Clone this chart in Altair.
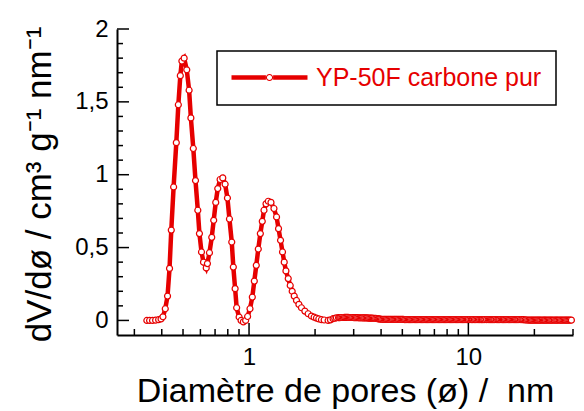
import altair as alt
import pandas as pd

# ---------------- data ----------------
pore_width_nm = [
    0.342, 0.352, 0.363, 0.375, 0.387, 0.397, 0.405, 0.415, 0.425, 0.434,
    0.442, 0.453, 0.466, 0.476, 0.486, 0.494, 0.506, 0.520, 0.533, 0.543,
    0.557, 0.570, 0.584, 0.594, 0.607, 0.620, 0.638, 0.646, 0.660, 0.676,
    0.690, 0.705, 0.720, 0.738, 0.759, 0.778, 0.797, 0.814, 0.834, 0.848,
    0.864, 0.878, 0.901, 0.920, 0.942, 0.965, 0.985, 1.010, 1.035, 1.057,
    1.079, 1.102, 1.126, 1.149, 1.170, 1.195, 1.224, 1.259, 1.299, 1.335,
    1.363, 1.392, 1.421, 1.447, 1.473, 1.509, 1.541, 1.573, 1.607, 1.646,
    1.688, 1.734, 1.797, 1.860, 1.925, 1.980, 2.029, 2.080, 2.138, 2.200,
    2.294, 2.350, 2.416, 2.460, 2.502,
    # flat tail (densely sampled)
    2.56, 2.59, 2.62, 2.655, 2.69, 2.725, 2.76, 2.795, 2.83, 2.865,
    2.90, 2.935, 2.97, 3.01, 3.05, 3.09, 3.13, 3.17, 3.21, 3.25,
    3.29, 3.33, 3.37, 3.415, 3.46, 3.505, 3.55, 3.595, 3.64, 3.685,
    3.73, 3.78, 3.83, 3.875, 3.92, 3.97, 4.02, 4.075, 4.13, 4.18,
    4.23, 4.285, 4.34, 4.395, 4.45, 4.51, 4.57, 4.625, 4.68, 4.74,
    4.80, 4.865, 4.93, 4.99, 5.05, 5.115, 5.18, 5.25, 5.32, 5.385,
    5.45, 5.52, 5.59, 5.665, 5.74, 5.81, 5.88, 5.955, 6.03, 6.11,
    6.19, 6.27, 6.35, 6.43, 6.51, 6.595, 6.68, 6.765, 6.85, 6.935,
    7.02, 7.11, 7.20, 7.295, 7.39, 7.485, 7.58, 7.675, 7.77, 7.87,
    7.97, 8.075, 8.18, 8.285, 8.39, 8.495, 8.60, 8.71, 8.82, 8.935,
    9.05, 9.165, 9.28, 9.40, 9.52, 9.645, 9.77, 9.885, 10.0, 10.15,
    10.3, 10.4, 10.5, 10.65, 10.8, 10.95, 11.1, 11.25, 11.4, 11.5,
    11.6, 11.75, 11.9, 12.1, 12.3, 12.45, 12.6, 12.75, 12.9, 13.05,
    13.2, 13.4, 13.6, 13.75, 13.9, 14.1, 14.3, 14.45, 14.6, 14.8,
    15.0, 15.2, 15.4, 15.6, 15.8, 16.0, 16.2, 16.4, 16.6, 16.8,
    17.0, 17.25, 17.5, 17.7, 17.9, 18.15, 18.4, 18.65, 18.9, 19.15,
    19.4, 19.65, 19.9, 20.15, 20.4, 20.65, 20.9, 21.15, 21.4, 21.7,
    22.0, 22.25, 22.5, 22.8, 23.1, 23.4, 23.7, 24.0, 24.3, 24.65,
    25.0, 25.3, 25.6, 25.95, 26.3, 26.65, 27.0, 27.35, 27.7, 28.05,
    28.4, 28.75, 29.1, 29.5,
]
dv_dd = [
    0.0, 0.0, 0.0, 0.002, 0.005, 0.010, 0.025, 0.080, 0.167, 0.357,
    0.620, 0.916, 1.220, 1.480, 1.680, 1.780, 1.800, 1.720, 1.580, 1.390,
    1.180, 0.960, 0.756, 0.596, 0.470, 0.400, 0.360, 0.390, 0.465, 0.570,
    0.687, 0.810, 0.905, 0.967, 0.978, 0.935, 0.840, 0.696, 0.538, 0.366,
    0.218, 0.087, 0.023, 0.0, -0.010, 0.0, 0.027, 0.080, 0.160, 0.270,
    0.378, 0.490, 0.596, 0.680, 0.756, 0.800, 0.818, 0.810, 0.768, 0.710,
    0.630, 0.550, 0.470, 0.400, 0.340, 0.287, 0.240, 0.200, 0.167, 0.137,
    0.110, 0.087, 0.064, 0.046, 0.030, 0.022, 0.016, 0.010, 0.005, 0.003,
    0.0, 0.004, 0.012, 0.015, 0.018,
    # flat tail
    0.019, 0.019, 0.020, 0.020, 0.020, 0.021, 0.021, 0.021, 0.021, 0.020,
    0.020, 0.020, 0.020, 0.019, 0.019, 0.019, 0.019, 0.018, 0.018, 0.018,
    0.018, 0.017, 0.017, 0.017, 0.017, 0.016, 0.016, 0.016, 0.016, 0.015,
    0.015, 0.014, 0.013, 0.011, 0.010, 0.009, 0.008, 0.007, 0.007, 0.007,
    0.007, 0.007, 0.007, 0.007, 0.007, 0.007, 0.007, 0.007, 0.007, 0.007,
    0.007, 0.007, 0.007, 0.007, 0.007, 0.006, 0.006, 0.006, 0.006, 0.006,
    0.006, 0.006, 0.006, 0.006, 0.006, 0.006, 0.006, 0.006, 0.006, 0.006,
    0.006, 0.006, 0.006, 0.006, 0.006, 0.006, 0.006, 0.006, 0.006, 0.006,
    0.006, 0.006, 0.006, 0.006, 0.006, 0.006, 0.006, 0.006, 0.006, 0.006,
    0.006, 0.006, 0.006, 0.006, 0.006, 0.006, 0.006, 0.006, 0.006, 0.006,
    0.006, 0.006, 0.006, 0.006, 0.006, 0.006, 0.006, 0.006, 0.006, 0.006,
    0.006, 0.006, 0.006, 0.006, 0.006, 0.006, 0.006, 0.006, 0.006, 0.006,
    0.006, 0.006, 0.006, 0.006, 0.006, 0.006, 0.006, 0.006, 0.006, 0.006,
    0.006, 0.006, 0.006, 0.006, 0.006, 0.006, 0.006, 0.006, 0.006, 0.006,
    0.006, 0.006, 0.006, 0.006, 0.006, 0.006, 0.006, 0.006, 0.006, 0.006,
    0.006, 0.006, 0.006, 0.005, 0.005, 0.004, 0.003, 0.003, 0.002, 0.002,
    0.002, 0.002, 0.002, 0.002, 0.002, 0.002, 0.002, 0.002, 0.002, 0.002,
    0.002, 0.002, 0.002, 0.002, 0.002, 0.002, 0.002, 0.002, 0.002, 0.002,
    0.002, 0.002, 0.002, 0.002, 0.002, 0.002, 0.002, 0.002, 0.002, 0.002,
    0.002, 0.002, 0.002, 0.002,
]
series_label = "YP-50F carbone pur"

y_major_ticks = [0, 0.5, 1, 1.5, 2]
y_minor_ticks = [0.1, 0.2, 0.3, 0.4, 0.6, 0.7, 0.8, 0.9,
                 1.1, 1.2, 1.3, 1.4, 1.6, 1.7, 1.8, 1.9]
x_major_ticks = [1, 10]
x_minor_ticks = [0.3, 0.4, 0.5, 0.6, 0.7, 0.8, 0.9,
                 2, 3, 4, 5, 6, 7, 8, 9, 20, 30]

x_title = "Diamètre de pores (ø) / \u00a0nm"
y_title = "dV/dø / cm³ g⁻¹ nm⁻¹"

# ---------------- style ----------------
RED = "#e60000"
FONT = "Liberation Sans"
W, H = 456, 306

# legend symbol: a thick line with a small open circle in the middle
LEGEND_SYMBOL = (
    "M-1,-0.18H1.867V0.18H-1Z "
    "M2.467,-0.18H5.333V0.18H2.467Z "
    "M2.467,0A0.3,0.3 0 1,1 1.867,0A0.3,0.3 0 1,1 2.467,0Z "
    "M2.377,0A0.21,0.21 0 1,0 1.957,0A0.21,0.21 0 1,0 2.377,0Z"
)

df = pd.DataFrame({"d": pore_width_nm, "v": dv_dd, "serie": series_label})

xs = alt.Scale(type="log", domain=[0.25, 30], nice=False)
ys = alt.Scale(domain=[-0.1, 2], nice=False, zero=False)

x_axis = alt.Axis(
    values=x_major_ticks, format="~g", ticks=False, tickSize=0, grid=False,
    domainColor="black", domainWidth=2, labelFontSize=24, labelPadding=10,
    labelColor="black", labelFont=FONT, labelFlush=False, labelOverlap=False,
    title=x_title, titleFont=FONT, titleFontSize=34, titleFontWeight="normal",
    titleColor="black", titleBaseline="alphabetic", titleY=66,
    titleX=W / 2, titleAlign="center",
)
y_axis = alt.Axis(
    values=y_major_ticks,
    labelExpr="replace(format(datum.value, '~g'), '.', ',')",
    ticks=False, tickSize=0, grid=False,
    domainColor="black", domainWidth=2, labelFontSize=24, labelPadding=9,
    labelColor="black", labelFont=FONT, labelFlush=False, labelOverlap=False,
    title=y_title, titleFont=FONT, titleFontSize=35, titleFontWeight="normal",
    titleColor="black", titleAngle=270, titleBaseline="alphabetic",
    titleX=-67, titleY=155, titleAlign="center",
)

X = alt.X("d:Q", scale=xs, axis=x_axis)
Y = alt.Y("v:Q", scale=ys, axis=y_axis)

base = alt.Chart(df)

line = base.mark_line(color=RED, strokeWidth=4.5).encode(x=X, y=Y)

points = base.mark_point(
    filled=True, fill="white", stroke=RED, strokeWidth=1.2, size=36, opacity=1
).encode(x=X, y=Y)

legend_layer = base.mark_point(filled=True, opacity=0).encode(
    x=X,
    y=Y,
    fill=alt.Fill(
        "serie:N",
        scale=alt.Scale(domain=[series_label], range=[RED]),
        legend=alt.Legend(
            title=None, orient="none", legendX=100, legendY=22,
            symbolType=LEGEND_SYMBOL, symbolSize=576, symbolStrokeWidth=0,
            symbolOpacity=1, labelFont=FONT, labelFontSize=25,
            labelColor=RED, labelOffset=60, labelLimit=0, padding=14,
            strokeColor="black", fillColor="white",
        ),
    ),
)


def x_ticks(vals, length):
    return alt.Chart(pd.DataFrame({"d": vals})).mark_rule(
        color="black", strokeWidth=1.5
    ).encode(
        x=X,
        y=alt.value(H),
        y2=alt.value(H - length),
    )


def y_ticks(vals, length):
    return alt.Chart(pd.DataFrame({"v": vals})).mark_rule(
        color="black", strokeWidth=1.5
    ).encode(
        y=Y,
        x=alt.value(0),
        x2=alt.value(length),
    )


chart = alt.layer(
    line,
    points,
    legend_layer,
    x_ticks(x_major_ticks, 12),
    x_ticks(x_minor_ticks, 6),
    y_ticks(y_major_ticks, 12),
    y_ticks(y_minor_ticks, 6),
).properties(
    width=W,
    height=H,
    autosize=alt.AutoSizeParams(type="none"),
    padding={"left": 109, "top": 21, "right": 3, "bottom": 82},
    background="white",
).configure_view(
    stroke=None
).configure_legend(
    strokeWidth=1.5
)

chart.save("out.html", embed_options={"renderer": "svg", "actions": False})
